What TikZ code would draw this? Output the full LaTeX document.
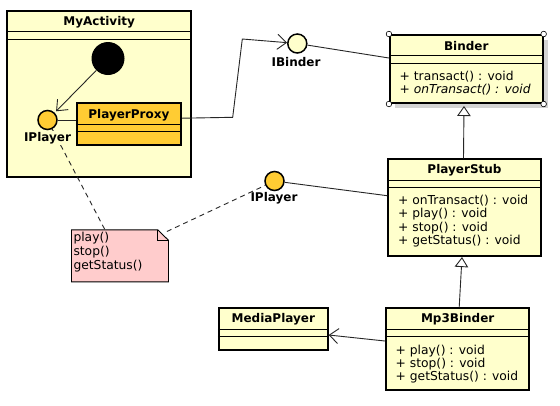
\documentclass[tikz,border=0pt]{standalone}
\usepackage{fontspec}
\setmainfont{DejaVu Sans}
\usetikzlibrary{arrows.meta,calc,shadows}
\definecolor{clsyellow}{HTML}{FFFFCC}
\definecolor{clsorange}{HTML}{FFCC33}
\definecolor{notepink}{HTML}{FFCCCC}
\begin{document}
\begin{tikzpicture}[x=1pt,y=-1pt,
  every node/.style={font=\fontsize{12.3}{13.5}\selectfont, inner sep=0pt},
  classbox/.style={draw, rectangle, line width=2pt, fill=clsyellow, inner sep=0pt},
  sepline/.style={line width=1pt},
  ttl/.style={font=\fontsize{12}{13.5}\selectfont\bfseries},
  mth/.style={anchor=west},
  iface/.style={circle, draw, line width=1.5pt, minimum size=19pt, inner sep=0pt},
  conn/.style={line width=0.9pt, draw=black!85},
  openarrow/.style={-{Straight Barb[length=9pt,width=15pt,line width=0.9pt]}},
  inh/.style={-{Triangle[open,length=10pt,width=13.5pt,line width=0.9pt,fill=white]}},
  dashconn/.style={line width=0.9pt, draw=black!85, dash pattern=on 5pt off 4pt},
  handle/.style={draw, fill=white, line width=0.6pt}
]
\path[fill=white,use as bounding box] (0,0) rectangle (560,405);

% ---------- MyActivity ----------
\node[classbox, minimum width=183.7pt, minimum height=166pt] (act) at (99.2,93.7) {};
\node[ttl] (actT) at ($(act.north)+(0,12.2)$) {MyActivity};

\node[circle, fill=black, minimum size=33pt] (init) at (108,58.5) {};
\node[iface, fill=clsorange] (ipl) at (47.5,120) {};

\node[classbox, fill=clsorange, minimum width=104.3pt, minimum height=41.7pt] (proxy) at (128.9,124.2) {};
\node[ttl] (proxyT) at ($(proxy.north)+(0,12.5)$) {PlayerProxy};

% ---------- Binder ----------
\node[classbox, minimum width=152.7pt, minimum height=68pt,
  drop shadow={shadow xshift=5pt, shadow yshift=-5pt, fill=black!17, opacity=1}] (binder) at (466.3,69) {};
\node[ttl] (binderT) at ($(binder.north)+(0,11.7)$) {Binder};
\node[mth] (b1) at (399.5,76.7) {+ transact() : void};
\node[mth] (b2) at (399.5,89.5) {\itshape + onTransact() : void};

% ---------- PlayerStub ----------
\node[classbox, minimum width=152.4pt, minimum height=96.7pt] (stub) at (464.5,207.7) {};
\node[ttl] (stubT) at ($(stub.north)+(0,11.5)$) {PlayerStub};
\node[mth] (s1) at (398,201) {+ onTransact() : void};
\node[mth] (s2) at (398,214.5) {+ play() : void};
\node[mth] (s3) at (398,228) {+ stop() : void};
\node[mth] (s4) at (398,241.5) {+ getStatus() : void};

% ---------- Mp3Binder ----------
\node[classbox, minimum width=143.5pt, minimum height=81.7pt] (mp3) at (457.7,349.2) {};
\node[ttl] (mp3T) at ($(mp3.north)+(0,12)$) {Mp3Binder};
\node[mth] (m1) at (395.5,350.7) {+ play() : void};
\node[mth] (m2) at (395.5,364) {+ stop() : void};
\node[mth] (m3) at (395.5,377.5) {+ getStatus() : void};

% ---------- MediaPlayer ----------
\node[classbox, minimum width=108.7pt, minimum height=41.7pt] (media) at (273.3,329.2) {};
\node[ttl] (mediaT) at ($(media.north)+(0,12.2)$) {MediaPlayer};

% separators
\foreach \n in {act,proxy,binder,stub,mp3,media}{
  \draw[sepline] ([yshift=-21.7pt]\n.north west) -- ([yshift=-21.7pt]\n.north east);
  \draw[sepline] ([yshift=-29.3pt]\n.north west) -- ([yshift=-29.3pt]\n.north east);
}

% selection handles on Binder
\foreach \c in {north west,north east,south west,south east}
  \draw[handle] (binder.\c) circle (2.8);

% ---------- interfaces ----------
\node[iface, fill=clsyellow] (ibinder) at (297.3,43.5) {};
\node[ttl] (ibinderL) at (296,62.5) {IBinder};
\node[iface, fill=clsorange] (iplr) at (274.5,181) {};
\node[ttl] (iplrL) at (274,198.3) {IPlayer};

% ---------- note ----------
\node[minimum width=96.6pt, minimum height=51.7pt] (note) at (120,255.85) {};
\filldraw[fill=notepink, line width=0.9pt] (note.north west) -- ([xshift=-10.8pt]note.north east)
  -- ([yshift=-10.5pt]note.north east) -- (note.south east) -- (note.south west) -- cycle;
\draw[line width=0.8pt] ([xshift=-10.8pt]note.north east) |- ([yshift=-10.5pt]note.north east);
\node[anchor=west] (n1) at (73.3,238) {play()};
\node[anchor=west] (n2) at (73.3,252) {stop()};
\node[anchor=west] (n3) at (73.3,266) {getStatus()};
\coordinate (nt1) at ($(note.north west)!0.345!(note.north east)$);
\coordinate (nt2) at ([xshift=-1.6pt,yshift=-1.7pt]note.north east);

% ---------- connectors ----------
\draw[conn, openarrow, shorten >=2pt] (init) -- (ipl);
\draw[conn] (ipl) -- (ipl -| proxy.west);
\draw[dashconn] (ipl) -- (nt1);
\node[ttl, fill=clsyellow, inner sep=1pt] (iplL) at (47.5,138.3) {IPlayer};
\draw[dashconn] (nt2) -- (iplr);

\coordinate (k1) at (232.7,117.3);
\coordinate (k2) at (242.3,39);
\draw[conn, openarrow] ([yshift=6pt]proxy.east) -- (k1) -- (k2) -- (ibinder);
\draw[conn] (ibinder) -- ([yshift=11pt]binder.west);
\draw[conn] (iplr) -- ([yshift=12pt]stub.west);

\draw[conn, inh] ($(stub.north)+(-1,0)$) -- ($(binder.south)+(-2.3,2)$);
\draw[conn, inh] ($(mp3.north)+(1.5,0)$) -- ($(stub.south)+(-2.5,0)$);
\draw[conn, openarrow] ([yshift=8.2pt]mp3.west) -- ([yshift=-5.8pt]media.east);
\end{tikzpicture}
\end{document}
